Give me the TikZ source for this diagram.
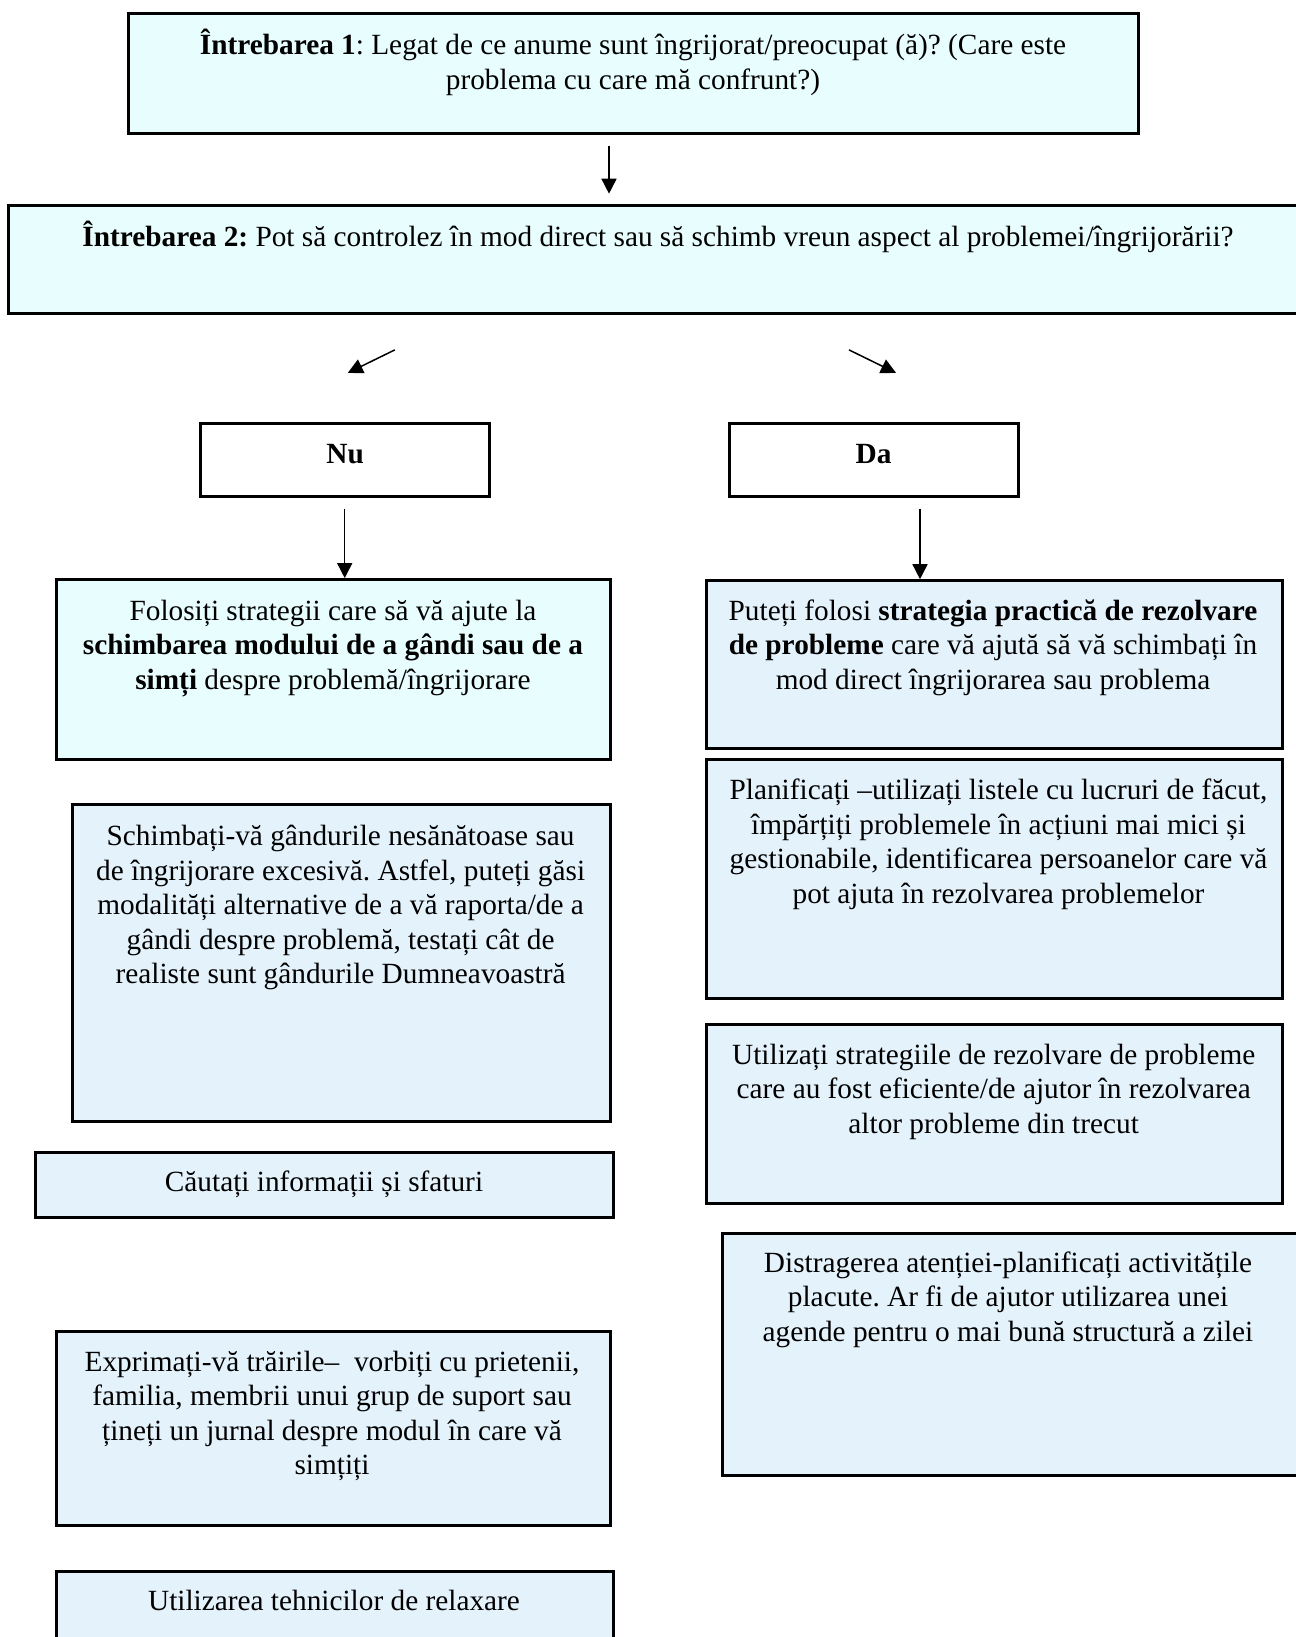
\documentclass[tikz,border=0pt]{standalone}
\usepackage{fontspec}
\setmainfont{Liberation Serif}
\usetikzlibrary{arrows.meta}
\definecolor{cyanbg}{RGB}{232,253,253}
\definecolor{bluebg}{RGB}{228,242,252}
\tikzset{
  cbox/.style={draw=black, line width=3pt, fill=cyanbg, inner sep=0pt, outer sep=0pt, anchor=north west},
  bbox/.style={draw=black, line width=3pt, fill=bluebg, inner sep=0pt, outer sep=0pt, anchor=north west},
  wbox/.style={draw=black, line width=3pt, fill=white, inner sep=0pt, outer sep=0pt, anchor=north west},
  txt/.style={anchor=north, align=center, inner sep=0pt, font=\fontsize{29.3}{34.5}\selectfont\frenchspacing},
  arr/.style={line width=1.5pt, -{Triangle[length=15pt,width=15pt]}}
}
\begin{document}
\frenchspacing
\begin{tikzpicture}[x=1pt,y=-1pt]
\useasboundingbox (0,0) rectangle (1295,1637);
% boxes
\node[cbox, line width=3.6pt, minimum width=1010pt, minimum height=120pt] (q1) at (128.5,13.6) {};
\node[cbox, minimum width=1300pt, minimum height=107.6pt] (q2) at (8.4,205.7) {};
\node[wbox, minimum width=289.3pt, minimum height=73pt] (nu) at (200.5,423) {};
\node[wbox, minimum width=289.3pt, minimum height=73pt] (da) at (729,423) {};
\node[cbox, minimum width=553.6pt, minimum height=179.7pt] (l1) at (56.4,579.6) {};
\node[bbox, minimum width=576.5pt, minimum height=168.1pt] (r1) at (706,580.7) {};
\node[bbox, minimum width=576.5pt, minimum height=239.2pt] (r2) at (706,759.3) {};
\node[bbox, minimum width=538pt, minimum height=317.7pt] (l2) at (72,804) {};
\node[bbox, minimum width=577.5pt, minimum height=65.8pt] (l3) at (35.5,1152) {};
\node[bbox, minimum width=576.5pt, minimum height=178.4pt] (r3) at (706,1024.6) {};
\node[bbox, minimum width=590pt, minimum height=242.4pt] (r4) at (722.7,1233.4) {};
\node[bbox, minimum width=553.6pt, minimum height=193.4pt] (l4) at (56.4,1331.6) {};
\node[bbox, minimum width=556.6pt, minimum height=80pt] (l5) at (56.4,1571.8) {};
% texts
\node[txt] (t1) at (633,29) {\strut\textbf{Întrebarea 1}: Legat de ce anume sunt îngrijorat/preocupat (ă)? (Care este\\\strut problema cu care mă confrunt?)};
\node[txt] (t2) at (658,221) {\strut\textbf{Întrebarea 2:} Pot să controlez în mod direct sau să schimb vreun aspect al problemei/îngrijorării?};
\node[txt] (tnu) at (345.2,439) {\strut\textbf{Nu}};
\node[txt] (tda) at (873.6,439) {\strut\textbf{Da}};
\node[txt] (tl1) at (333,596) {\strut Folosiți strategii care să vă ajute la\\\strut\textbf{schimbarea modului de a gândi sau de a}\\\strut\textbf{simți} despre problemă/îngrijorare};
\node[txt] (tr1) at (993,596) {\strut Puteți folosi \textbf{strategia practică de rezolvare}\\\strut\textbf{de probleme} care vă ajută să vă schimbați în\\\strut mod direct îngrijorarea sau problema};
\node[txt] (tr2) at (998.5,775.6) {\strut Planificați –utilizați listele cu lucruri de făcut,\\\strut împărțiți problemele în acțiuni mai mici și\\\strut gestionabile, identificarea persoanelor care vă\\\strut pot ajuta în rezolvarea problemelor};
\node[txt] (tl2) at (340.6,821.6) {\strut Schimbați-vă gândurile nesănătoase sau\\\strut de îngrijorare excesivă. Astfel, puteți găsi\\\strut modalități alternative de a vă raporta/de a\\\strut gândi despre problemă, testați cât de\\\strut realiste sunt gândurile Dumneavoastră};
\node[txt] (tl3) at (324,1167) {\strut Căutați informații și sfaturi};
\node[txt] (tr3) at (993.7,1040) {\strut Utilizați strategiile de rezolvare de probleme\\\strut care au fost eficiente/de ajutor în rezolvarea\\\strut altor probleme din trecut};
\node[txt] (tr4) at (1008,1247.7) {\strut Distragerea atenției-planificați activitățile\\\strut placute. Ar fi de ajutor utilizarea unei\\\strut agende pentru o mai bună structură a zilei};
\node[txt] (tl4) at (332,1347) {\strut Exprimați-vă trăirile–\ \ vorbiți cu prietenii,\\\strut familia, membrii unui grup de suport sau\\\strut țineți un jurnal despre modul în care vă\\\strut simțiți};
\node[txt] (tl5) at (334,1586) {\strut Utilizarea tehnicilor de relaxare};
% arrows
\coordinate (a1) at (609,0);
\draw[arr, shorten <=12pt, shorten >=12pt] (q1.south -| a1) -- (q2.north -| a1);
\coordinate (dl1) at (394.8,349.9);
\coordinate (dl2) at (347.8,372.9);
\coordinate (dr1) at (849,349.9);
\coordinate (dr2) at (896,372.9);
\draw[arr] (dl1) -- (dl2);
\draw[arr] (dr1) -- (dr2);
\coordinate (a2) at (344.7,0);
\coordinate (a3) at (920,0);
\draw[arr, shorten <=12.6pt, shorten >=1.5pt] (nu.south -| a2) -- (l1.north -| a2);
\draw[arr, shorten <=12.6pt, shorten >=1.5pt] (da.south -| a3) -- (r1.north -| a3);
\end{tikzpicture}
\end{document}
